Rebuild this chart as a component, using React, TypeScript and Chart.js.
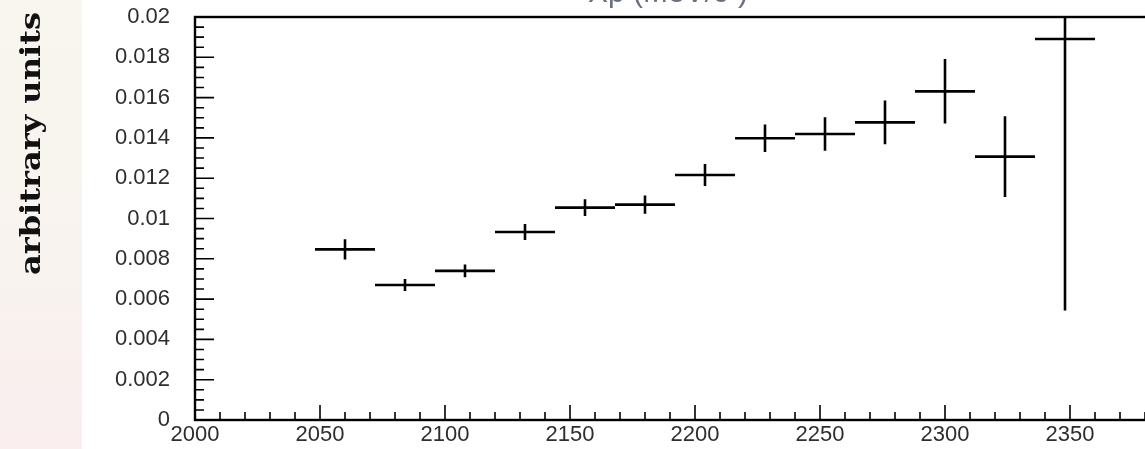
import React, { useEffect, useRef } from "react";
import { Chart, registerables } from "chart.js";

Chart.register(...registerables);

// ---- data ----
const binCenters = [2060, 2084, 2108, 2132, 2156, 2180, 2204, 2228, 2252, 2276, 2300, 2324, 2348];
const values = [0.00847, 0.0067, 0.0074, 0.00933, 0.01054, 0.01069, 0.01216, 0.01398, 0.01419, 0.01477, 0.01631, 0.01307, 0.01891];
const errors = [0.0005, 0.0003, 0.00032, 0.0004, 0.00041, 0.00045, 0.00055, 0.00068, 0.00083, 0.00108, 0.0016, 0.002, 0.01348];
const binHalfWidth = 12;
const xTickValues = [2000, 2050, 2100, 2150, 2200, 2250, 2300, 2350, 2400];
const xTickLabels = ["2000", "2050", "2100", "2150", "2200", "2250", "2300", "2350", "2400"];
const yTickValues = [0, 0.002, 0.004, 0.006, 0.008, 0.01, 0.012, 0.014, 0.016, 0.018, 0.02];
const yTickLabels = ["0", "0.002", "0.004", "0.006", "0.008", "0.01", "0.012", "0.014", "0.016", "0.018", "0.02"];
const yAxisTitle = "arbitrary units";
const topTitle = "Xp (MeV/c\u00b2)";

const sidePlugin = {
  id: "side",
  beforeDraw(chart: any) {
    const { ctx, height } = chart;
    ctx.save();
    const g = ctx.createLinearGradient(0, 0, 0, height);
    g.addColorStop(0, "#f8f6ee");
    g.addColorStop(0.6, "#f8f3ee");
    g.addColorStop(1, "#faeeee");
    ctx.fillStyle = g;
    ctx.fillRect(0, 0, 82, height);
    // y axis title, drawn rotated
    ctx.translate(33, 143.5);
    ctx.rotate(-Math.PI / 2);
    ctx.font = "bold 27px 'DejaVu Serif'";
    const w = ctx.measureText(yAxisTitle).width;
    ctx.scale(263 / w, 1);
    ctx.fillStyle = "#111";
    ctx.textAlign = "center";
    ctx.textBaseline = "middle";
    ctx.fillText(yAxisTitle, 0, 0);
    ctx.restore();
  },
};

const framePlugin = {
  id: "frame",
  afterDatasetsDraw(chart: any) {
    const { ctx, chartArea: a } = chart;
    const xs = chart.scales.x;
    const ys = chart.scales.y;
    ctx.save();
    // error bars
    ctx.beginPath();
    ctx.rect(a.left, a.top, a.right - a.left, a.bottom - a.top);
    ctx.clip();
    ctx.strokeStyle = "#000";
    ctx.lineWidth = 2.6;
    ctx.beginPath();
    for (let i = 0; i < binCenters.length; i++) {
      const c = binCenters[i];
      const v = values[i];
      const e = errors[i];
      const yp = ys.getPixelForValue(v);
      ctx.moveTo(xs.getPixelForValue(c - binHalfWidth), yp);
      ctx.lineTo(xs.getPixelForValue(c + binHalfWidth), yp);
      const xp = xs.getPixelForValue(c);
      ctx.moveTo(xp, ys.getPixelForValue(v + e));
      ctx.lineTo(xp, ys.getPixelForValue(v - e));
    }
    ctx.stroke();
    ctx.restore();

    ctx.save();
    // ticks
    ctx.strokeStyle = "#000";
    ctx.lineWidth = 1.6;
    ctx.beginPath();
    for (let k = 0; k <= 40; k++) {
      const v = k * 0.0005;
      const yp = ys.getPixelForValue(v);
      const len = k % 4 === 0 ? 19 : 9;
      ctx.moveTo(a.left, yp);
      ctx.lineTo(a.left + len, yp);
    }
    for (let k = 0; k <= 40; k++) {
      const v = 2000 + k * 10;
      const xp = xs.getPixelForValue(v);
      const len = k % 5 === 0 ? 15 : 8;
      ctx.moveTo(xp, a.bottom);
      ctx.lineTo(xp, a.bottom - len);
    }
    ctx.stroke();
    // frame
    ctx.lineWidth = 2.4;
    ctx.strokeRect(a.left, a.top, a.right - a.left, a.bottom - a.top);
    // clipped top title
    ctx.fillStyle = "#6a7082";
    ctx.font = "30px 'Liberation Sans'";
    ctx.textAlign = "left";
    ctx.textBaseline = "alphabetic";
    ctx.fillText(topTitle, 588, 2);
    ctx.restore();
  },
};

const zeroPad = (s: any) => {
  s.paddingTop = 0;
  s.paddingBottom = 0;
  s.paddingLeft = 0;
  s.paddingRight = 0;
};

export default function App() {
  const ref = useRef<HTMLCanvasElement | null>(null);
  useEffect(() => {
    if (!ref.current) return;
    const chart = new Chart(ref.current, {
      type: "scatter",
      data: {
        datasets: [
          {
            data: binCenters.map((c, i) => ({ x: c, y: values[i] })),
            pointRadius: 0,
            showLine: false,
          },
        ],
      },
      options: {
        animation: false,
        responsive: false,
        devicePixelRatio: 1,
        layout: { padding: { top: 17, right: 25, left: 0, bottom: 0 } },
        plugins: { legend: { display: false }, tooltip: { enabled: false }, title: { display: false } },
        scales: {
          x: {
            type: "linear",
            min: 2000,
            max: 2400,
            grid: { display: false, drawTicks: false },
            border: { display: false },
            afterBuildTicks: (s: any) => {
              s.ticks = xTickValues.map((v) => ({ value: v }));
            },
            afterFit: (s: any) => {
              s.height = 29;
              zeroPad(s);
            },
            ticks: {
              padding: 2,
              color: "#2e2e2e",
              font: { family: "'Liberation Sans'", size: 22 },
              maxRotation: 0,
              autoSkip: false,
              callback: (v: any) => {
                const i = xTickValues.indexOf(Number(v));
                return i >= 0 ? xTickLabels[i] : "";
              },
            },
          },
          y: {
            type: "linear",
            min: 0,
            max: 0.02,
            grid: { display: false, drawTicks: false },
            border: { display: false },
            afterBuildTicks: (s: any) => {
              s.ticks = yTickValues.map((v) => ({ value: v }));
            },
            afterFit: (s: any) => {
              s.width = 195;
              zeroPad(s);
            },
            ticks: {
              padding: 25,
              color: "#2e2e2e",
              font: { family: "'Liberation Sans'", size: 22 },
              autoSkip: false,
              callback: (v: any) => {
                const i = yTickValues.findIndex((t) => Math.abs(t - Number(v)) < 1e-9);
                return i >= 0 ? yTickLabels[i] : "";
              },
            },
          },
        },
      },
      plugins: [sidePlugin, framePlugin],
    });
    return () => chart.destroy();
  }, []);
  return (
    <div style={{ position: "absolute", left: 0, top: 0, width: 1145, height: 449, overflow: "hidden", background: "#fff" }}>
      <canvas ref={ref} width={1220} height={449} style={{ display: "block" }} />
    </div>
  );
}
